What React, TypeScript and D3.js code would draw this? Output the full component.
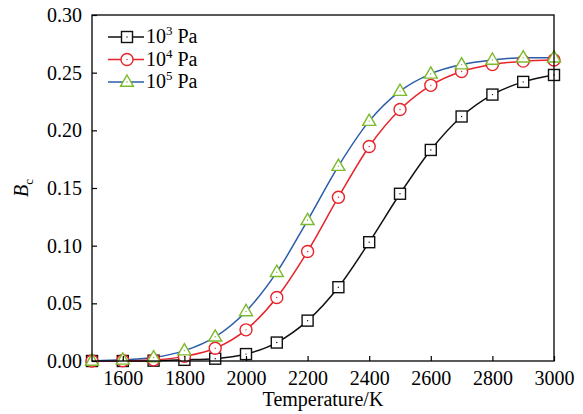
import React, { useEffect, useRef } from 'react';
import * as d3 from 'd3';

const temps = [1500, 1600, 1700, 1800, 1900, 2000, 2100, 2200, 2300, 2400, 2500, 2600, 2700, 2800, 2900, 3000];
const bc1e3 = [0, 0, 0.0003, 0.001, 0.002, 0.006, 0.016, 0.035, 0.064, 0.103, 0.145, 0.183, 0.212, 0.231, 0.242, 0.248];
const bc1e4 = [0, 0.0003, 0.001, 0.004, 0.011, 0.027, 0.055, 0.095, 0.142, 0.186, 0.218, 0.239, 0.251, 0.257, 0.260, 0.261];
const bc1e5 = [0, 0.001, 0.003, 0.009, 0.021, 0.043, 0.077, 0.122, 0.169, 0.208, 0.234, 0.249, 0.257, 0.261, 0.263, 0.263];
const xTicks = [1600, 1800, 2000, 2200, 2400, 2600, 2800, 3000];
const yTicks = [0, 0.05, 0.1, 0.15, 0.2, 0.25, 0.3];
const seriesNames = ['3', '4', '5'];

const W = 583;
const H = 414;
const FONT = 'Liberation Serif, Times New Roman, DejaVu Serif, serif';

const App = () => {
  const ref = useRef<SVGSVGElement>(null);

  useEffect(() => {
    const svg = d3.select(ref.current);
    svg.selectAll('*').remove();
    const margin = { top: 15, right: 29, bottom: 53, left: 92 };
    const cw = W - margin.left - margin.right;
    const ch = H - margin.top - margin.bottom;

    const x = d3.scaleLinear().domain([1500, 3000]).range([0, cw]);
    const y = d3.scaleLinear().domain([0, 0.3]).range([ch, 0]);

    const g = svg.append('g').attr('transform', `translate(${margin.left},${margin.top})`);

    const series = [
      { vals: bc1e3, line: '#111111', mark: '#111111', shape: 'square' },
      { vals: bc1e4, line: '#e8232b', mark: '#e8232b', shape: 'circle' },
      { vals: bc1e5, line: '#2a5cab', mark: '#7cba2c', shape: 'triangle' },
    ];

    const line = d3.line<number>()
      .x((d, i) => x(temps[i]))
      .y(d => y(d))
      .curve(d3.curveMonotoneX);

    const drawMarker = (sel: any, shape: string, color: string, cx: number, cy: number) => {
      if (shape === 'square') {
        sel.append('rect').attr('x', cx - 5.5).attr('y', cy - 5.5).attr('width', 11).attr('height', 11)
          .attr('fill', 'white').attr('stroke', color).attr('stroke-width', 1.4);
      } else if (shape === 'circle') {
        sel.append('circle').attr('cx', cx).attr('cy', cy).attr('r', 6)
          .attr('fill', 'white').attr('stroke', color).attr('stroke-width', 1.4);
      } else {
        const s = 13;
        const h = s * Math.sqrt(3) / 2;
        sel.append('path')
          .attr('d', `M${cx},${cy - h * 0.62}L${cx + s / 2},${cy + h * 0.38}L${cx - s / 2},${cy + h * 0.38}Z`)
          .attr('fill', 'white').attr('stroke', color).attr('stroke-width', 1.4);
      }
      sel.append('circle').attr('cx', cx).attr('cy', cy).attr('r', 0.7).attr('fill', color);
    };

    const plot = g.append('g');
    series.forEach(s => {
      plot.append('path').datum(s.vals)
        .attr('fill', 'none').attr('stroke', s.line).attr('stroke-width', 1.5)
        .attr('d', line);
    });
    series.forEach(s => {
      s.vals.forEach((v, i) => drawMarker(plot, s.shape, s.mark, x(temps[i]), y(v)));
    });

    // frame
    g.append('rect').attr('x', 0).attr('y', 0).attr('width', cw).attr('height', ch)
      .attr('fill', 'none').attr('stroke', '#000').attr('stroke-width', 1.3);

    const xAxis = g.append('g').attr('transform', `translate(0,${ch})`)
      .call(d3.axisBottom(x).tickValues(xTicks).tickSize(-5).tickPadding(10).tickFormat(d3.format('d')));
    xAxis.attr('font-family', FONT).attr('font-size', 20);
    xAxis.select('.domain').remove();
    xAxis.selectAll('line').attr('stroke-width', 1.2);
    xAxis.selectAll('text').attr('fill', '#000');

    const yAxis = g.append('g')
      .call(d3.axisLeft(y).tickValues(yTicks).tickSize(-5).tickPadding(10).tickFormat(d3.format('.2f')));
    yAxis.attr('font-family', FONT).attr('font-size', 20);
    yAxis.select('.domain').remove();
    yAxis.selectAll('line').attr('stroke-width', 1.2);
    yAxis.selectAll('text').attr('fill', '#000');

    // axis titles
    svg.append('text').attr('x', margin.left + cw / 2).attr('y', 406)
      .attr('text-anchor', 'middle').attr('font-family', FONT).attr('font-size', 20)
      .text('Temperature/K');
    const yt = svg.append('text').attr('transform', `translate(28,${margin.top + ch / 2}) rotate(-90)`)
      .attr('text-anchor', 'middle').attr('font-family', FONT).attr('font-size', 20);
    yt.append('tspan').attr('font-style', 'italic').text('B');
    yt.append('tspan').attr('dy', 5).attr('font-size', 13).text('c');

    // legend
    const leg = svg.append('g');
    series.forEach((s, i) => {
      const ly = 37 + i * 22.5;
      leg.append('line').attr('x1', 108).attr('x2', 144).attr('y1', ly).attr('y2', ly)
        .attr('stroke', s.line).attr('stroke-width', 1.5);
      drawMarker(leg, s.shape, s.mark, 127, ly);
      const t = leg.append('text').attr('x', 146).attr('y', ly + 6)
        .attr('font-family', FONT).attr('font-size', 20);
      t.append('tspan').text('10');
      t.append('tspan').attr('dy', -8).attr('font-size', 13).text(seriesNames[i]);
      t.append('tspan').attr('dy', 8).text(' Pa');
    });
  }, []);

  return <svg ref={ref} width={W} height={H} style={{ display: 'block', position: 'absolute', left: 0, top: 0 }} />;
};

export default App;
